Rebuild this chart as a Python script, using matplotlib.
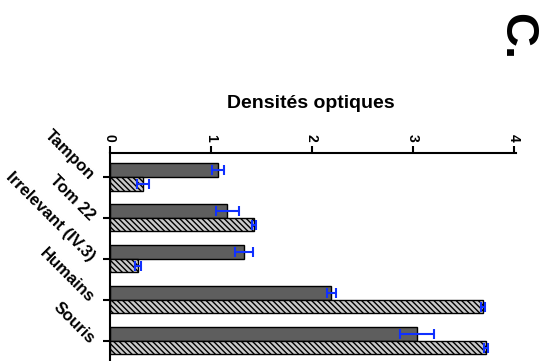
import numpy as np
import matplotlib
matplotlib.use("Agg")
import matplotlib.pyplot as plt

plt.rcParams["font.family"] = ["Liberation Sans", "DejaVu Sans"]
plt.rcParams["hatch.linewidth"] = 1.0
plt.rcParams["hatch.color"] = "#6a6a6a"

# Densités optiques par condition (barre pleine / barre hachurée)
categories = ["Tampon", "Tom 22", "Irrelevant (IV.3)", "Humains", "Souris"]
dense_vals = [1.07, 1.16, 1.33, 2.19, 3.04]
dense_err = [0.06, 0.115, 0.09, 0.045, 0.17]
hatch_vals = [0.33, 1.425, 0.28, 3.69, 3.72]
hatch_err = [0.06, 0.02, 0.03, 0.02, 0.02]
x_ticks = [0, 1, 2, 3, 4]

fig = plt.figure(figsize=(5.52, 3.61), dpi=100)
ax = fig.add_axes([110 / 552, 0, 406 / 552, 1 - 153 / 361])

y = np.arange(len(categories))
h = 0.33
ax.barh(y - h / 2, dense_vals, height=h, color="#5e5e5e", edgecolor="black", linewidth=1)
ax.barh(y + h / 2, hatch_vals, height=h, color="#cacaca", edgecolor="black",
        linewidth=1, hatch="\\\\\\\\\\\\")
ax.errorbar(dense_vals, y - h / 2, xerr=dense_err, fmt="none", ecolor="#1030ff",
            elinewidth=1.5, capsize=3.5, capthick=1.5)
ax.errorbar(hatch_vals, y + h / 2, xerr=hatch_err, fmt="none", ecolor="#1030ff",
            elinewidth=1.5, capsize=3.5, capthick=1.5)

ax.set_xlim(0, 4.02)
ax.set_ylim(4.49, -0.585)
ax.xaxis.tick_top()
ax.set_xticks(x_ticks)
ax.set_xticklabels([str(t) for t in x_ticks], rotation=-90, fontweight="bold", fontsize=10)
ax.set_yticks(y)
ax.set_yticklabels(categories, rotation=-45, rotation_mode="anchor", ha="right",
                   va="center", fontweight="bold", fontsize=12)
ax.tick_params(axis="both", direction="out", length=5, width=1.5, pad=3)
ax.tick_params(axis="y", pad=8)
for side in ["right", "bottom"]:
    ax.spines[side].set_visible(False)
for side in ["top", "left"]:
    ax.spines[side].set_linewidth(1.5)

fig.text(311 / 552, 1 - 104 / 361, "Densités optiques", ha="center", va="center",
         fontweight="bold", fontsize=14)
fig.text(516 / 552, 1 - 37 / 361, "C.", ha="center", va="center", rotation=-90,
         fontweight="bold", fontsize=34)

fig.savefig("out.png", dpi=100)
